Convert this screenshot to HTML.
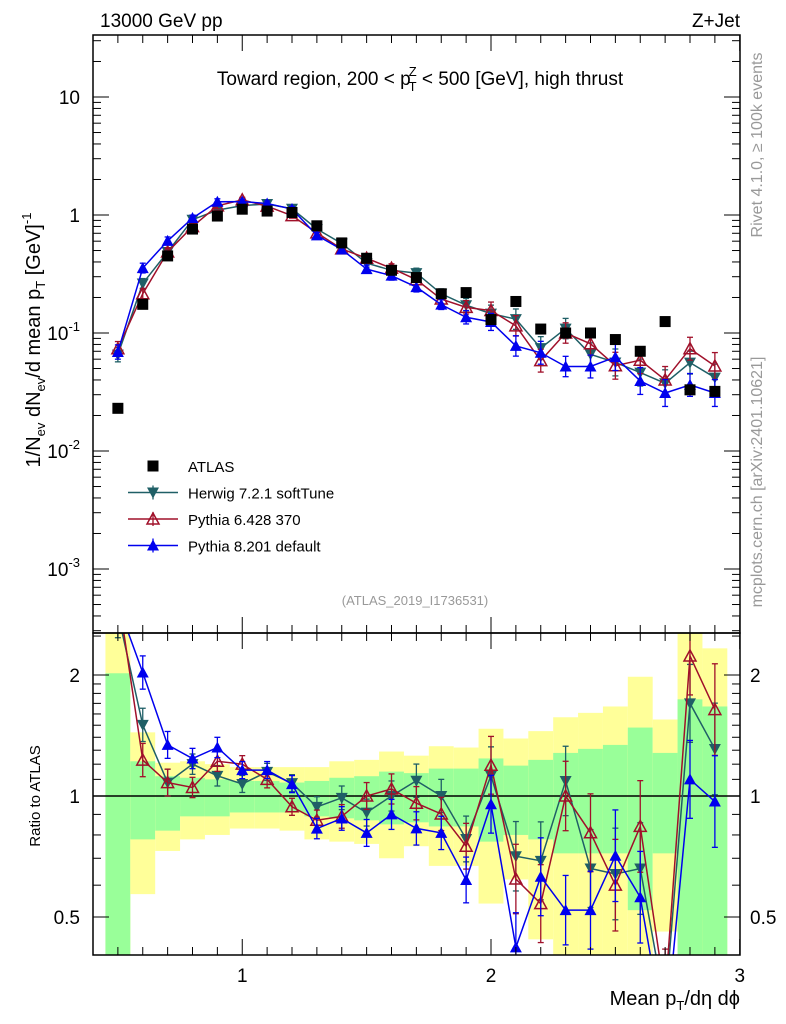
<!DOCTYPE html>
<html><head><meta charset="utf-8"><style>
html,body{margin:0;padding:0;background:#fff;overflow:hidden;width:786px;height:1024px}
svg{display:block;font-family:"Liberation Sans",sans-serif}
</style></head><body>
<svg id="c" width="786" height="1024" viewBox="0 0 786 1024" xmlns="http://www.w3.org/2000/svg">
<defs>
<clipPath id="cm"><rect x="93" y="35" width="647" height="598"/></clipPath>
<clipPath id="cr"><rect x="93" y="633" width="647" height="322"/></clipPath>
</defs>
<g id="bands" clip-path="url(#cr)"></g>
<g id="marks"></g>
<rect x="93" y="35" width="647" height="598" fill="none" stroke="#000" stroke-width="1.5"/>
<rect x="93" y="633" width="647" height="322" fill="none" stroke="#000" stroke-width="1.5"/>
<g id="ticks" stroke="#000" stroke-width="1"></g>
<text x="100" y="27" font-size="19">13000 GeV pp</text>
<text x="740" y="27" font-size="19" text-anchor="end">Z+Jet</text>
<text x="420" y="85" font-size="19" text-anchor="middle">Toward region, 200 &lt; p<tspan font-size="13" dy="-9" dx="-2">Z</tspan><tspan font-size="13" dy="15" dx="-8">T</tspan><tspan dy="-6"> &lt; 500 [GeV], high thrust</tspan></text>
<text transform="translate(40,340) rotate(-90)" font-size="20" text-anchor="middle">1/N<tspan font-size="13" dy="5">ev</tspan><tspan dy="-5"> dN</tspan><tspan font-size="13" dy="5">ev</tspan><tspan dy="-5">/d mean p</tspan><tspan font-size="13" dy="5">T</tspan><tspan dy="-5"> [GeV]</tspan><tspan font-size="13" dy="-9">-1</tspan></text>
<text transform="translate(40,796) rotate(-90)" font-size="15" text-anchor="middle">Ratio to ATLAS</text>
<text x="740" y="1005" font-size="20" text-anchor="end">Mean p<tspan font-size="13" dy="5">T</tspan><tspan dy="-5">/dη dϕ</tspan></text>
<text transform="translate(762,145) rotate(-90)" font-size="16" fill="#999" text-anchor="middle">Rivet 4.1.0, ≥ 100k events</text>
<text transform="translate(762,482) rotate(-90)" font-size="16" fill="#999" text-anchor="middle">mcplots.cern.ch [arXiv:2401.10621]</text>
<text x="415" y="605" font-size="13" fill="#999" text-anchor="middle">(ATLAS_2019_I1736531)</text>
<g id="legend" font-size="15"></g>
</svg>
<script>
const xCenters=[0.5,0.6,0.7,0.8,0.9,1.0,1.1,1.2,1.3,1.4,1.5,1.6,1.7,1.8,1.9,2.0,2.1,2.2,2.3,2.4,2.5,2.6,2.7,2.8,2.9];
const atlasValues=[0.023,0.175,0.45,0.76,0.98,1.12,1.08,1.05,0.81,0.58,0.43,0.34,0.295,0.215,0.22,0.13,0.185,0.108,0.1,0.1,0.088,0.07,0.125,0.033,0.032];
const herwigValues=[0.0655,0.263,0.486,0.912,1.10,1.20,1.24,1.13,0.761,0.574,0.391,0.34,0.322,0.215,0.172,0.146,0.131,0.0745,0.109,0.066,0.0563,0.0462,0.0375,0.0561,0.0419];
const pythia6Values=[0.0736,0.215,0.486,0.798,1.196,1.344,1.188,0.987,0.705,0.516,0.43,0.354,0.283,0.194,0.165,0.155,0.115,0.0583,0.1,0.081,0.0528,0.0588,0.04,0.0736,0.0525];
const pythia8Values=[0.069,0.355,0.603,0.942,1.294,1.299,1.253,1.124,0.672,0.510,0.348,0.306,0.245,0.174,0.136,0.124,0.0777,0.068,0.052,0.052,0.0625,0.0392,0.031,0.0363,0.031];
const mcRelErr=[0.15,0.1,0.08,0.06,0.06,0.05,0.05,0.05,0.06,0.07,0.08,0.09,0.1,0.1,0.14,0.18,0.22,0.25,0.22,0.25,0.3,0.3,0.3,0.25,0.3];
const greenUp=[2.02,1.22,1.12,1.11,1.10,1.09,1.09,1.08,1.09,1.11,1.12,1.15,1.14,1.17,1.17,1.24,1.19,1.23,1.28,1.31,1.34,1.48,1.28,1.74,1.67];
const greenDn=[0.3,0.78,0.82,0.89,0.89,0.91,0.91,0.91,0.89,0.88,0.87,0.85,0.86,0.84,0.84,0.77,0.8,0.78,0.72,0.72,0.72,0.52,0.72,0.3,0.3];
const yellowUp=[3.0,1.44,1.21,1.22,1.20,1.18,1.18,1.18,1.18,1.22,1.23,1.29,1.26,1.33,1.32,1.47,1.39,1.45,1.57,1.61,1.67,1.98,1.55,3.0,2.33];
const yellowDn=[0.3,0.57,0.73,0.78,0.80,0.83,0.83,0.82,0.78,0.77,0.76,0.70,0.75,0.67,0.67,0.54,0.62,0.44,0.3,0.3,0.3,0.3,0.46,0.3,0.3];
const xTickLabels=["1","2","3"];
const mainTickLabels=["10","1","10^-1","10^-2","10^-3"];
const ratioTickLabels=["2","1","0.5"];

const NS="http://www.w3.org/2000/svg";
const X=v=>93+(v-0.4)*248.75;
const YM=v=>215-118*Math.log10(v);
const YR=r=>796-121*Math.log2(r);
function mk(tag,at,parent){const e=document.createElementNS(NS,tag);for(const k in at)e.setAttribute(k,at[k]);parent.appendChild(e);return e;}
const svg=document.getElementById('c');
const bands=document.getElementById('bands');
const marks=document.getElementById('marks');
const ticks=document.getElementById('ticks');

xCenters.forEach((c,i)=>{
  const x0=X(c-0.05),w=X(c+0.05)-x0;
  let r=mk('rect',{x:x0,y:YR(yellowUp[i]),width:w,height:YR(yellowDn[i])-YR(yellowUp[i]),fill:'#ffff99'},bands);
  
  
  let g=mk('rect',{x:x0,y:YR(greenUp[i]),width:w,height:YR(greenDn[i])-YR(greenUp[i]),fill:'#99ff99'},bands);
  
  
});
mk('line',{x1:93,x2:740,y1:YR(1),y2:YR(1),stroke:'#000','stroke-width':1.5},bands);

function marker(type,x,y,col,parent){
  if(type==='sq') return mk('rect',{x:x-5.5,y:y-5.5,width:11,height:11,fill:'#000'},parent);
  if(type==='down') return mk('polygon',{points:`${x-6},${y-5} ${x+6},${y-5} ${x},${y+6}`,fill:col},parent);
  if(type==='up') return mk('polygon',{points:`${x-6},${y+5} ${x+6},${y+5} ${x},${y-6}`,fill:col},parent);
  if(type==='open') return mk('polygon',{points:`${x-6},${y+5} ${x+6},${y+5} ${x},${y-6}`,fill:'none',stroke:col,'stroke-width':1.5},parent);
}
const series=[
 {name:'herwig',vals:herwigValues,col:'#1f5f66',m:'down'},
 {name:'pythia6',vals:pythia6Values,col:'#a0102a',m:'open'},
 {name:'pythia8',vals:pythia8Values,col:'#0000ee',m:'up'}
];
const gm=mk('g',{'clip-path':'url(#cm)'},marks);
const gr=mk('g',{'clip-path':'url(#cr)'},marks);
series.forEach(s=>{
  const ratios=s.vals.map((v,i)=>v/atlasValues[i]);
  let lm=mk('polyline',{points:s.vals.map((v,i)=>X(xCenters[i])+','+YM(v)).join(' '),fill:'none',stroke:s.col,'stroke-width':1.5},gm);
  
  
  let lr=mk('polyline',{points:ratios.map((r,i)=>X(xCenters[i])+','+YR(r)).join(' '),fill:'none',stroke:s.col,'stroke-width':1.5},gr);
  
  
  s.vals.forEach((v,i)=>{
    const x=X(xCenters[i]),e=mcRelErr[i];
    [[gm,YM(v*(1+e)),YM(v/(1+e)),YM(v)],[gr,YR(ratios[i]*(1+e)),YR(ratios[i]/(1+e)),YR(ratios[i])]].forEach(([p,y1,y2,y])=>{
      mk('line',{x1:x,x2:x,y1:y1,y2:y2,stroke:s.col,'stroke-width':1.3},p);
      mk('line',{x1:x-3,x2:x+3,y1:y1,y2:y1,stroke:s.col,'stroke-width':1.3},p);
      mk('line',{x1:x-3,x2:x+3,y1:y2,y2:y2,stroke:s.col,'stroke-width':1.3},p);
      const mm=marker(s.m,x,y,s.col,p);
      
      
    });
  });
});
atlasValues.forEach((v,i)=>{
  const m=marker('sq',X(xCenters[i]),YM(v),'#000',gm);
  
  
});

function T(x1,y1,x2,y2){mk('line',{x1,y1,x2,y2},ticks);}
for(let k=4;k<=30;k++){
  const v=k/10,x=X(v),big=(k%10===0),len=big?16:8;
  T(x,35,x,35+len);T(x,633,x,633-len);T(x,633,x,633+len);T(x,955,x,955-len);
}
for(let d=-4;d<=1;d++){for(let m=1;m<=9;m++){const v=m*Math.pow(10,d),y=YM(v);if(y<35||y>633)continue;const len=m===1?16:8;T(93,y,93+len,y);T(740,y,740-len,y);}}
[0.4,0.5,0.6,0.7,0.8,0.9,1,1.1,1.2,1.3,1.4,1.5,1.6,1.7,1.8,1.9,2,2.5].forEach(r=>{const y=YR(r);if(y<633||y>955)return;const len=(r===0.5||r===1||r===2)?16:8;T(93,y,93+len,y);T(740,y,740-len,y);});

const xt=[1,2,3];
xt.forEach((v,i)=>{const t=mk('text',{x:X(v),y:982,'font-size':19,'text-anchor':'middle'},svg);t.textContent=xTickLabels[i];});
const mv=[10,1,0.1,0.01,0.001];
mv.forEach((v,i)=>{
  const lab=mainTickLabels[i],y=YM(v)+7;
  const t=mk('text',{x:80,y:y,'font-size':19,'text-anchor':'end'},svg);
  if(lab.indexOf('^')>=0){const [b,e]=lab.split('^');t.textContent=b;const ts=mk('tspan',{dy:-9,'font-size':13},t);ts.textContent=e;}
  else t.textContent=lab;
  
  
});
[2,1,0.5].forEach((r,i)=>{
  [[80,'end'],[750,'start']].forEach(([x,a])=>{
    const t=mk('text',{x:x,y:YR(r)+7,'font-size':19,'text-anchor':a},svg);t.textContent=ratioTickLabels[i];
    
    
  });
});

const lg=document.getElementById('legend');
const entries=[['sq','#000','ATLAS'],['down','#1f5f66','Herwig 7.2.1 softTune'],['open','#a0102a','Pythia 6.428 370'],['up','#0000ee','Pythia 8.201 default']];
entries.forEach((e,i)=>{
  const y=466+i*26.5;
  const g=mk('g',{},lg);
  
  
  if(e[0]!=='sq'){mk('line',{x1:128,x2:178,y1:y,y2:y,stroke:e[1],'stroke-width':1.5},g);mk('line',{x1:153,x2:153,y1:y-7,y2:y+7,stroke:e[1],'stroke-width':1.3},g);}
  marker(e[0],153,y,e[1],g);
  const t=mk('text',{x:188,y:y+6,'font-size':15},g);t.textContent=e[2];
});
</script>
</body></html>
